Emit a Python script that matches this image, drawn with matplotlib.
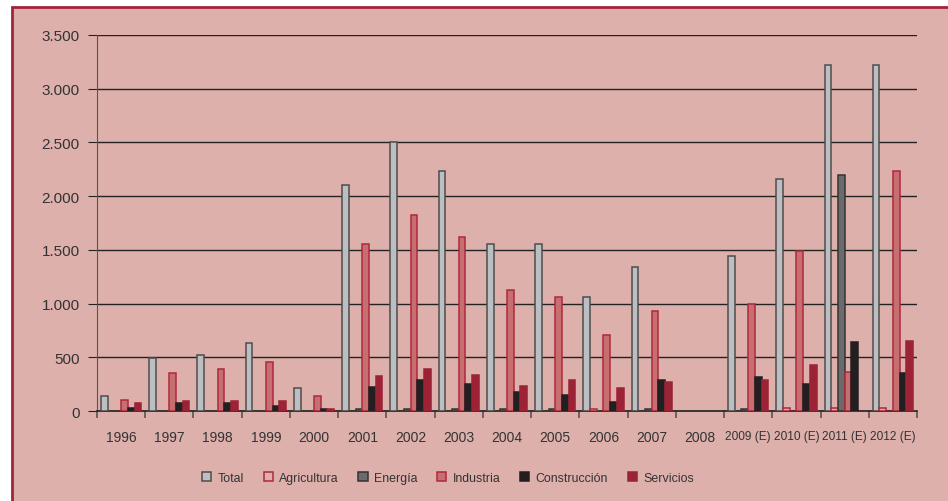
import numpy as np
import matplotlib.pyplot as plt
from matplotlib.patches import Rectangle
from matplotlib.ticker import FuncFormatter, FixedLocator

plt.rcParams['font.family'] = ['Liberation Sans', 'DejaVu Sans']

# categorías (años)
years = ['1996', '1997', '1998', '1999', '2000', '2001', '2002', '2003', '2004',
         '2005', '2006', '2007', '2008', '2009 (E)', '2010 (E)', '2011 (E)', '2012 (E)']

total        = [140, 495, 525, 630, 215, 2100, 2500, 2230, 1550, 1550, 1060, 1340, 0, 1440, 2160, 3220, 3220]
agricultura  = [0, 0, 0, 0, 0, 0, 0, 0, 0, 0, 20, 0, 0, 0, 25, 25, 25]
energia      = [0, 0, 0, 0, 0, 15, 15, 15, 15, 15, 0, 15, 0, 20, 0, 2200, 0]
industria    = [105, 350, 390, 455, 140, 1550, 1820, 1620, 1130, 1060, 710, 930, 0, 995, 1485, 360, 2230]
construccion = [30, 72, 75, 50, 15, 220, 285, 250, 180, 153, 88, 285, 0, 320, 250, 640, 355]
servicios    = [70, 90, 90, 90, 20, 330, 390, 338, 237, 284, 215, 270, 0, 285, 428, 0, 650]

series = [
    ('Total', total, '#bdbec2', '#4d4d4d'),
    ('Agricultura', agricultura, '#ddb0ac', '#b0283c'),
    ('Energía', energia, '#6b6b6b', '#333333'),
    ('Industria', industria, '#c56f70', '#b0283c'),
    ('Construcción', construccion, '#231f20', '#231f20'),
    ('Servicios', servicios, '#9b2335', '#9b2335'),
]

bg = '#ddb0ac'
fig = plt.figure(figsize=(9.48, 5.02), dpi=100)
fig.patch.set_facecolor('white')
# fondo rosa con borde granate
fig.patches.append(Rectangle((12 / 948, -0.05), 1.0, 1 - 8 / 502 + 0.05, transform=fig.transFigure,
                             facecolor=bg, edgecolor='#a3243a', linewidth=2, zorder=-1))

ax = fig.add_axes([97 / 948, 1 - 412 / 502, 820 / 948, 376 / 502])
ax.set_facecolor('none')

x = np.arange(len(years))
w = 0.139
handles = []
for i, (name, vals, fc, ec) in enumerate(series):
    v = np.array(vals, dtype=float)
    v[v == 0] = np.nan  # los ceros no se dibujan
    b = ax.bar(x + (i - 2.5) * w, v, width=w, color=fc, edgecolor=ec, linewidth=1.1,
               label=name, zorder=3)
    handles.append(b)

ax.set_xlim(-0.5, len(years) - 0.5)
ax.set_ylim(0, 3500)
ax.set_yticks(np.arange(0, 3501, 500))
ax.yaxis.set_major_formatter(FuncFormatter(lambda v, p: '{:,.0f}'.format(v).replace(',', '.')))
ax.grid(axis='y', color='#222222', linewidth=1, zorder=1)
ax.set_axisbelow(True)

ax.set_xticks(x)
ax.set_xticklabels(years)
ax.xaxis.set_minor_locator(FixedLocator(np.arange(-0.5, len(years), 1.0)))
ax.tick_params(axis='x', which='major', length=0, pad=14, labelsize=10, labelcolor='#333333')
ax.tick_params(axis='x', which='minor', length=5, direction='out', color='#555555', width=1.2)
ax.tick_params(axis='y', length=6.5, color='#222222', labelsize=11, labelcolor='#333333', pad=6)
for lab in ax.get_xticklabels():
    if '(E)' in lab.get_text():
        lab.set_fontsize(8.6)

for s in ['top', 'right']:
    ax.spines[s].set_visible(False)
ax.spines['left'].set_color('#555555')
ax.spines['bottom'].set_color('#222222')
ax.spines['bottom'].set_linewidth(1.2)

fig.legend(handles=handles, loc='center', bbox_to_anchor=(448 / 948, 1 - 479 / 502), ncol=6,
           frameon=False, fontsize=8.9, handlelength=0.75, handleheight=0.75, handletextpad=0.5,
           columnspacing=1.6, labelcolor='#333333')

fig.savefig('out.png', dpi=100, facecolor=fig.get_facecolor())
